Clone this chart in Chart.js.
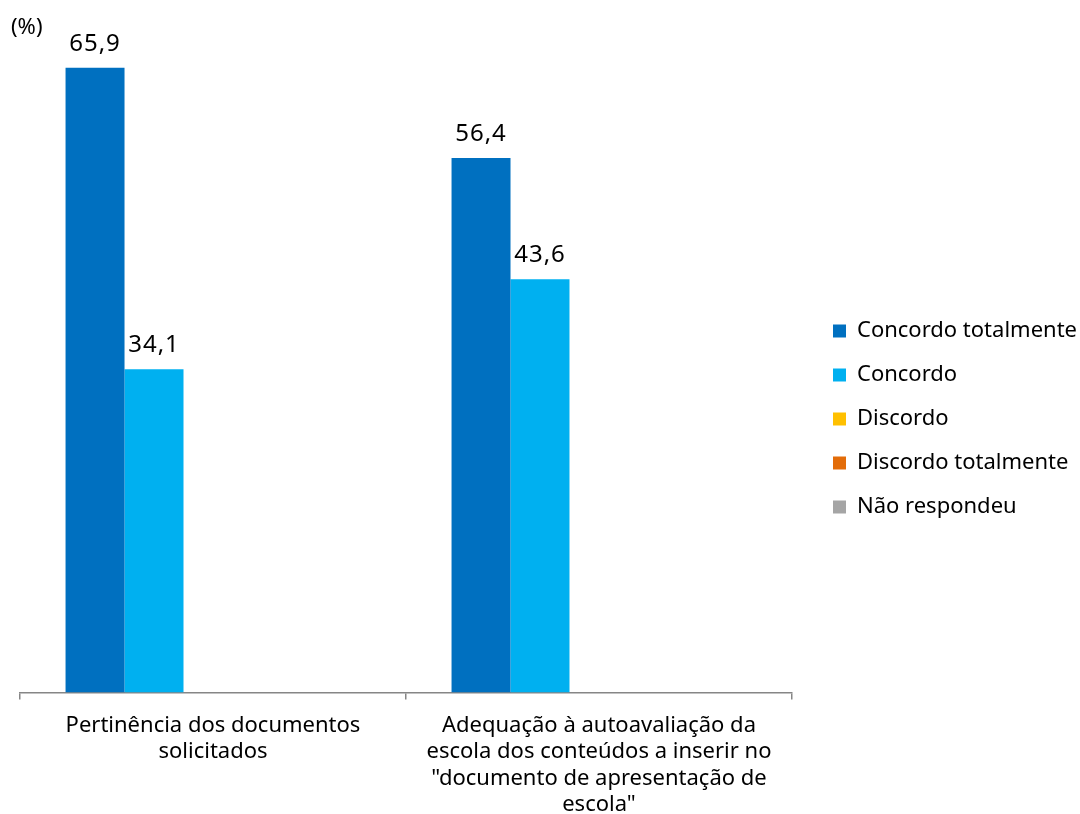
<!DOCTYPE html>
<html>
<head>
<meta charset="utf-8">
<script src="https://cdn.jsdelivr.net/npm/chart.js@4.4.1/dist/chart.umd.min.js"></script>
<style>
  html, body { margin:0; padding:0; background:#fff; }
  #wrap { width:1080px; height:814px; position:relative; }
</style>
</head>
<body>
<div id="wrap"><canvas id="chart" width="1080" height="814"></canvas></div>
<script>
// categories (multi-line labels as in the source)
const CATEGORIES = [
  ['Pertinência dos documentos', 'solicitados'],
  ['Adequação à autoavaliação da', 'escola dos conteúdos a inserir no', '"documento de apresentação de', 'escola"']
];
const SERIES_NAMES = ['Concordo totalmente', 'Concordo', 'Discordo', 'Discordo totalmente', 'Não respondeu'];
const CONCORDO_TOTALMENTE = [65.9, 56.4];
const CONCORDO = [34.1, 43.6];
const DISCORDO = [null, null];
const DISCORDO_TOTALMENTE = [null, null];
const NAO_RESPONDEU = [null, null];
const Y_MAX = 70;

const COLORS = ['#0070C0', '#00B0F0', '#FFC000', '#E36C09', '#A5A5A5'];
const FONT = '"Noto Sans", sans-serif';

function $(id){ return document.getElementById(id); }

// value labels above bars, decimal comma
const valueLabels = {
  id: 'valueLabels',
  afterDatasetsDraw(chart){
    const ctx = chart.ctx;
    ctx.save();
    ctx.font = '24px ' + FONT;
    ctx.letterSpacing = '1px';
    ctx.fillStyle = '#000';
    ctx.textAlign = 'center';
    ctx.textBaseline = 'alphabetic';
    chart.data.datasets.forEach((ds, i) => {
      const meta = chart.getDatasetMeta(i);
      meta.data.forEach((bar, j) => {
        const v = ds.data[j];
        if(v == null) return;
        ctx.fillText(v.toFixed(1).replace('.', ','), bar.x, bar.y - 17);
      });
    });
    ctx.restore();
  }
};

// "(%)" unit mark at top-left
const unitMark = {
  id: 'unitMark',
  afterDraw(chart){
    const ctx = chart.ctx;
    ctx.save();
    ctx.font = '22px ' + FONT;
    ctx.fillStyle = '#000';
    ctx.textAlign = 'left';
    ctx.textBaseline = 'middle';
    ctx.fillText('(%)', 11, 28);
    ctx.restore();
  }
};

// wider gap between plot and legend without changing row spacing
const LEGEND_EXTRA = 12, LEGEND_SHIFT = 19, LEGEND_DY = -11;
const legendGap = {
  id: 'legendGap',
  beforeInit(chart){
    const fit = chart.legend.fit;
    chart.legend.fit = function(){ fit.call(this); this.width += LEGEND_EXTRA; };
  },
  afterLayout(chart){
    const lg = chart.legend;
    lg.left += LEGEND_SHIFT;
    lg.right += LEGEND_SHIFT;
    lg.top += LEGEND_DY;
    lg.bottom += LEGEND_DY;
  }
};

const seriesData = [CONCORDO_TOTALMENTE, CONCORDO, DISCORDO, DISCORDO_TOTALMENTE, NAO_RESPONDEU];

new Chart($('chart'), {
  type: 'bar',
  data: {
    labels: CATEGORIES,
    datasets: SERIES_NAMES.map((name, i) => ({
      label: name,
      data: seriesData[i],
      backgroundColor: COLORS[i],
      borderWidth: 0,
      barPercentage: 1,
      categoryPercentage: 0.764
    }))
  },
  options: {
    responsive: false,
    animation: false,
    layout: { padding: { top: 29, left: 20, right: 0, bottom: -17 } },
    plugins: {
      legend: {
        position: 'right',
        align: 'center',
        labels: {
          boxWidth: 13, boxHeight: 13, padding: 22,
          color: '#000',
          font: { family: FONT, size: 22 }
        }
      },
      tooltip: { enabled: false }
    },
    scales: {
      x: {
        offset: true,
        grid: { display: true, drawOnChartArea: false, offset: true, color: '#868686', tickLength: 7, lineWidth: 1.5 },
        border: { display: true, color: '#868686', width: 1.5 },
        ticks: { color: '#000', font: { family: FONT, size: 22, lineHeight: 1.2 }, padding: 13, maxRotation: 0, autoSkip: false }
      },
      y: {
        display: false,
        min: 0, max: Y_MAX
      }
    }
  },
  plugins: [valueLabels, unitMark, legendGap]
});
</script>
</body>
</html>
